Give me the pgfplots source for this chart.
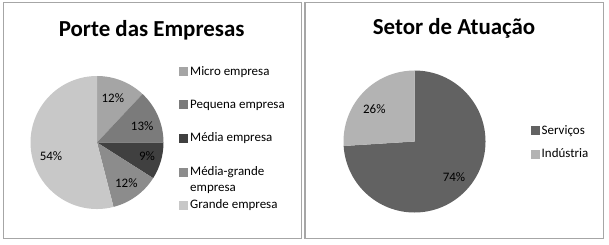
\documentclass[border=0pt]{standalone}
\usepackage{pgfplots}
\pgfplotsset{compat=1.18}
\usepackage{fontspec}
\setmainfont{Carlito}
\definecolor{cMicro}{HTML}{A5A5A5}
\definecolor{cPeq}{HTML}{7B7B7B}
\definecolor{cMed}{HTML}{404040}
\definecolor{cMG}{HTML}{8C8C8C}
\definecolor{cGr}{HTML}{C8C8C8}
\definecolor{cServ}{HTML}{626262}
\definecolor{cInd}{HTML}{B3B3B3}
\definecolor{boxgray}{HTML}{A6A6A6}
% slice: #1 cumulative start (%), #2 value (%), #3 colour, #4 radius, #5 label radius (axis units), #6 label angle adjust
\newcommand{\slice}[6]{%
  \fill[#3] (axis cs:0,0) -- (axis cs:{cos(90-3.6*#1)},{sin(90-3.6*#1)})
    arc[start angle={90-3.6*#1}, end angle={90-3.6*(#1+#2)}, radius=#4] -- cycle;
  \node[font=\fontsize{13}{15}\selectfont] at (axis cs:{#5*cos(90-3.6*(#1+#2/2)+#6)},{#5*sin(90-3.6*(#1+#2/2)+#6)}) {#2\%};
}
\begin{document}
\begin{tikzpicture}[x=1bp,y=1bp]
\useasboundingbox (0,0) rectangle (609,244);
\fill[white] (0,0) rectangle (609,244);
\draw[boxgray, line width=1.2bp] (3.3,5.7) rectangle (301.7,241.3);
\draw[boxgray, line width=1.2bp] (305,5.9) rectangle (603.3,241.3);
% left pie
\begin{axis}[at={(97bp,101.5bp)}, anchor=origin, x=66.5bp, y=66.5bp,
  xmin=-1, xmax=1, ymin=-1, ymax=1, hide axis, clip=false]
  \slice{0}{12}{cMicro}{66.5bp}{0.71}{2}
  \slice{12}{13}{cPeq}{66.5bp}{0.72}{-4}
  \slice{25}{9}{cMed}{66.5bp}{0.78}{1}
  \slice{34}{12}{cMG}{66.5bp}{0.75}{0}
  \slice{46}{54}{cGr}{66.5bp}{0.72}{9}
\end{axis}
% right pie
\begin{axis}[at={(414.5bp,102.5bp)}, anchor=origin, x=71bp, y=71bp,
  xmin=-1, xmax=1, ymin=-1, ymax=1, hide axis, clip=false]
  \slice{0}{74}{cServ}{71bp}{0.75}{1}
  \slice{74}{26}{cInd}{71bp}{0.73}{4}
\end{axis}
% titles
\node[anchor=base, font=\bfseries\fontsize{23}{28}\selectfont] at (151.7,208) {Porte das Empresas};
\node[anchor=base, font=\bfseries\fontsize{23}{28}\selectfont] at (454,209.5) {Setor de Atuação};
% left legend
\begin{scope}[font=\fontsize{13}{15}\selectfont]
\fill[cMicro] (179,168) rectangle (188,177);
\node[anchor=base west, inner sep=0pt] at (190,169) {Micro empresa};
\fill[cPeq] (179,134.7) rectangle (188,143.7);
\node[anchor=base west, inner sep=0pt] at (190,135.7) {Pequena empresa};
\fill[cMed] (179,101.3) rectangle (188,110.3);
\node[anchor=base west, inner sep=0pt] at (190,102.3) {Média empresa};
\fill[cMG] (179,67.3) rectangle (188,76.3);
\node[anchor=base west, inner sep=0pt] at (190,68.3) {Média-grande};
\node[anchor=base west, inner sep=0pt] at (190,52.3) {empresa};
\fill[cGr] (179,34.3) rectangle (188,43.3);
\node[anchor=base west, inner sep=0pt] at (190,35.3) {Grande empresa};
% right legend
\fill[cServ] (531,108.7) rectangle (539.5,117.7);
\node[anchor=base west, inner sep=0pt] at (541.5,109.7) {Serviços};
\fill[cInd] (531,85.3) rectangle (539.5,94.3);
\node[anchor=base west, inner sep=0pt] at (541.5,86.3) {Indústria};
\end{scope}
\end{tikzpicture}
\end{document}
